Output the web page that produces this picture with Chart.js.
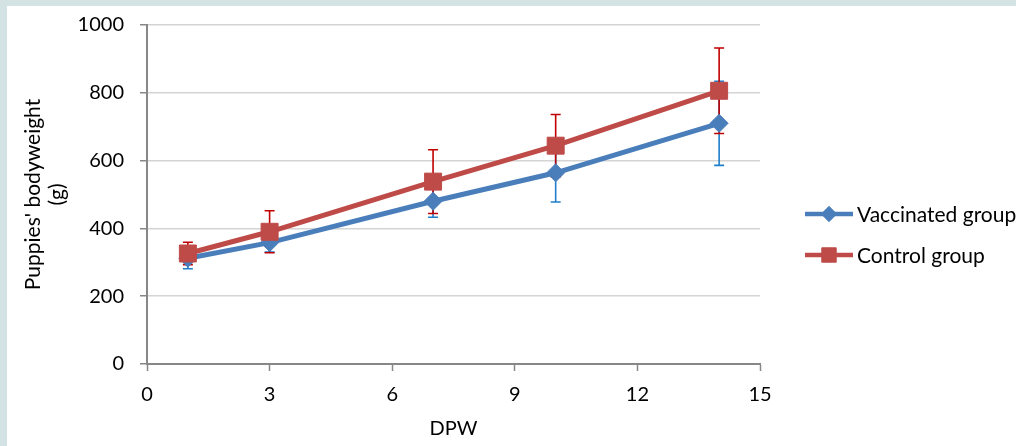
<!DOCTYPE html>
<html>
<head>
<meta charset="utf-8">
<script src="https://cdn.jsdelivr.net/npm/chart.js@4/dist/chart.umd.min.js"></script>
<style>
  body { margin: 0; background: #d3e3e3; overflow: hidden; }
  #panel { position: absolute; left: 7px; top: 6px; width: 1009px; height: 440px; background: #fff; }
</style>
</head>
<body>
<div id="panel"><canvas id="chart" width="1009" height="440"></canvas></div>
<script>
// values
const dpw = [1, 3, 7, 10, 14];
const vaccinated = [312, 358, 480, 564, 710];
const vaccinatedErr = [31, 28, 47, 86, 124];
const control = [326, 390, 538, 644, 806];
const controlErr = [33, 62, 94, 92, 126];
const seriesNames = ['Vaccinated group', 'Control group'];
const yTicks = [0, 200, 400, 600, 800, 1000];
const xTicks = [0, 3, 6, 9, 12, 15];

const FONT = 'Lato, "Open Sans", sans-serif';
const FSIZE = 20;
const BLUE = '#4a7ebb';
const RED = '#be4b48';
const BLUE_ERR = '#1f7fcc';
const RED_ERR = '#c00000';
const AXIS = '#878787';

// error bars, drawn under the lines and markers
const errorBars = {
  id: 'errorBars',
  beforeDatasetsDraw(chart) {
    const ctx = chart.ctx;
    const y = chart.scales.y;
    chart.data.datasets.forEach((ds, i) => {
      const meta = chart.getDatasetMeta(i);
      ctx.save();
      ctx.strokeStyle = ds.errColor;
      ctx.lineWidth = 1.6;
      meta.data.forEach((pt, j) => {
        const v = ds.data[j].y, e = ds.err[j];
        const top = y.getPixelForValue(v + e);
        const bot = y.getPixelForValue(v - e);
        ctx.beginPath();
        ctx.moveTo(pt.x, top); ctx.lineTo(pt.x, bot);
        ctx.moveTo(pt.x - 5, top); ctx.lineTo(pt.x + 5, top);
        ctx.moveTo(pt.x - 5, bot); ctx.lineTo(pt.x + 5, bot);
        ctx.stroke();
      });
      ctx.restore();
    });
  }
};

// legend at the right, Excel style
const sideLegend = {
  id: 'sideLegend',
  afterDraw(chart) {
    const ctx = chart.ctx;
    const rows = [208, 249];
    chart.data.datasets.forEach((ds, i) => {
      const yy = rows[i];
      ctx.save();
      ctx.strokeStyle = ds.borderColor;
      ctx.lineWidth = 4.5;
      ctx.beginPath();
      ctx.moveTo(798, yy); ctx.lineTo(846, yy);
      ctx.stroke();
      ctx.fillStyle = ds.pointBackgroundColor;
      ctx.strokeStyle = ds.pointBorderColor;
      ctx.lineWidth = 1;
      ctx.beginPath();
      if (ds.pointStyle === 'rectRot') {
        const r = ds.pointRadius * 0.85;
        ctx.moveTo(822 - r, yy); ctx.lineTo(822, yy - r); ctx.lineTo(822 + r, yy); ctx.lineTo(822, yy + r);
      } else {
        const s = ds.pointRadius * 0.85 * Math.SQRT1_2;
        ctx.rect(822 - s, yy - s, 2 * s, 2 * s);
      }
      ctx.closePath();
      ctx.fill();
      ctx.stroke();
      ctx.fillStyle = '#000';
      ctx.font = '21px ' + FONT;
      ctx.textBaseline = 'middle';
      ctx.fillText(seriesNames[i], 850, yy + 1);
      ctx.restore();
    });
  }
};

const toPoints = (xs, ys) => xs.map((x, i) => ({ x: x, y: ys[i] }));

new Chart(document.getElementById('chart'), {
  type: 'line',
  data: {
    datasets: [
      {
        label: seriesNames[0],
        data: toPoints(dpw, vaccinated),
        err: vaccinatedErr,
        errColor: BLUE_ERR,
        borderColor: BLUE,
        borderWidth: 5,
        pointStyle: 'rectRot',
        pointRadius: 9,
        pointBackgroundColor: BLUE,
        pointBorderColor: BLUE,
        pointBorderWidth: 1,
        tension: 0,
        order: 1
      },
      {
        label: seriesNames[1],
        data: toPoints(dpw, control),
        err: controlErr,
        errColor: RED_ERR,
        borderColor: RED,
        borderWidth: 5,
        pointStyle: 'rect',
        pointRadius: 12,
        pointBackgroundColor: RED,
        pointBorderColor: RED,
        pointBorderWidth: 1,
        tension: 0,
        order: 0
      }
    ]
  },
  options: {
    responsive: false,
    animation: false,
    layout: { padding: { top: 19, right: 256, bottom: 0, left: 0 } },
    plugins: { legend: { display: false }, tooltip: { enabled: false } },
    scales: {
      x: {
        type: 'linear',
        min: 0,
        max: 15,
        afterBuildTicks: s => { s.ticks = xTicks.map(v => ({ value: v })); },
        afterFit: s => { s.height = 82; s.paddingLeft = 0; s.paddingRight = 0; },
        ticks: { color: '#000', font: { family: FONT, size: FSIZE }, padding: 12, callback: v => String(v) },
        grid: { drawOnChartArea: false, drawTicks: true, tickLength: 7, tickColor: AXIS, tickWidth: 1.5 },
        border: { color: AXIS, width: 2 },
        title: { display: true, text: 'DPW', color: '#000', font: { family: FONT, size: FSIZE }, padding: { top: 0, bottom: 5 } }
      },
      y: {
        min: 0,
        max: 1000,
        afterBuildTicks: s => { s.ticks = yTicks.map(v => ({ value: v })); },
        afterFit: s => { s.width = 140; s.paddingTop = 0; s.paddingBottom = 0; },
        ticks: { color: '#000', font: { family: FONT, size: FSIZE }, padding: 16, callback: v => String(v) },
        grid: {
          color: '#d4d4d4',
          lineWidth: 1.5,
          borderDash: [8, 5],
          tickLength: 7,
          tickColor: AXIS,
          tickWidth: 1.5,
          tickBorderDash: []
        },
        border: { color: AXIS, width: 2 },
        title: {
          display: true,
          text: ["Puppies' bodyweight", '(g)'],
          color: '#000',
          font: { family: FONT, size: 21, lineHeight: 1.15 },
          padding: { top: 14, bottom: 0 }
        }
      }
    }
  },
  plugins: [errorBars, sideLegend]
});
</script>
</body>
</html>
